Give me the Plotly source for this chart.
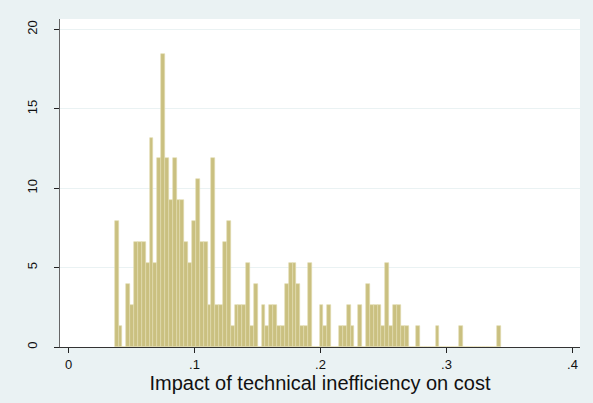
import plotly.graph_objects as go

# Histogram of cost-inefficiency impact: 100 equal-width bins
bin_min = 0.0367
bin_max = 0.3435
n_bins = 100
counts = [
    6, 1, 0, 3, 2, 5, 5, 5, 4, 10,
    4, 9, 14, 9, 7, 9, 7, 7, 5, 4,
    6, 8, 5, 5, 2, 9, 2, 2, 5, 6,
    1, 2, 2, 2, 4, 1, 3, 0, 2, 1,
    2, 2, 1, 1, 3, 4, 4, 3, 1, 1,
    4, 0, 0, 2, 1, 2, 0, 0, 1, 1,
    2, 1, 0, 2, 0, 3, 2, 2, 2, 1,
    4, 1, 2, 2, 1, 1, 0, 0, 1, 0,
    0, 0, 0, 1, 0, 0, 0, 0, 0, 1,
    0, 0, 0, 0, 0, 0, 0, 0, 0, 1,
]
x_ticks = [0, 0.1, 0.2, 0.3, 0.4]
x_tick_labels = ["0", ".1", ".2", ".3", ".4"]
y_ticks = [0, 5, 10, 15, 20]
y_tick_labels = ["0", "5", "10", "15", "20"]

width = (bin_max - bin_min) / n_bins
n_obs = sum(counts)
centers = [bin_min + (i + 0.5) * width for i in range(n_bins)]
density = [c / (n_obs * width) for c in counts]

bg = "#EAF2F3"
fig = go.Figure(
    go.Bar(
        x=centers,
        y=density,
        width=width,
        marker=dict(color="rgb(202,192,128)",
                    line=dict(color="rgb(226,220,176)", width=0.6)),
        hoverinfo="x+y",
    )
)

fig.update_layout(
    width=593,
    height=403,
    margin=dict(l=60, r=13, t=19, b=56),
    paper_bgcolor=bg,
    plot_bgcolor="white",
    bargap=0,
    showlegend=False,
    font=dict(family="Liberation Sans, Arial, sans-serif", color="#111"),
    xaxis=dict(
        range=[-0.00675, 0.406],
        tickvals=x_ticks,
        ticktext=x_tick_labels,
        ticks="outside",
        ticklen=5,
        tickcolor="#222",
        tickfont=dict(size=13),
        showgrid=False,
        zeroline=False,
        showline=True,
        linecolor="#333",
        linewidth=1,
        title=dict(text="Impact of technical inefficiency on cost",
                   font=dict(size=20), standoff=0),
    ),
    yaxis=dict(
        range=[0, 20.66],
        tickvals=y_ticks,
        ticktext=y_tick_labels,
        ticks="outside",
        ticklen=5,
        tickcolor="#222",
        tickangle=-90,
        tickfont=dict(size=13),
        ticklabelstandoff=12,
        showgrid=True,
        gridcolor=bg,
        gridwidth=1,
        zeroline=False,
        showline=True,
        linecolor="#666",
        linewidth=1,
    ),
)

fig.write_html("out.html")
